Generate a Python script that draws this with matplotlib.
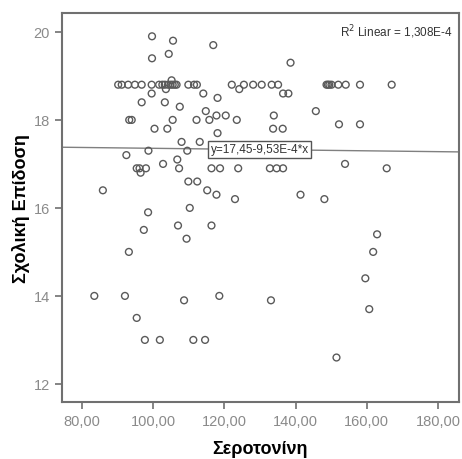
import numpy as np
import matplotlib.pyplot as plt
from matplotlib.ticker import FuncFormatter

plt.rcParams['font.family'] = ['Liberation Sans', 'DejaVu Sans']

# serotonin (x) and school performance (y), one entry per student
serotonin = [
    90.2, 91.2, 93.0, 94.9, 96.8, 99.6, 101.7, 102.6, 103.3, 104.2, 104.9, 105.5,
    106.1, 106.6, 109.9, 111.5, 112.3, 122.1, 125.5, 128.1, 130.5, 133.3, 135.1,
    148.7, 149.1, 149.5, 150.1, 152.0, 154.1, 158.1, 167.0,
    105.2, 103.6, 124.2, 136.5, 138.0, 99.6, 114.1,
    99.7, 105.6, 104.4, 99.7, 116.9, 138.6,
    96.8, 103.3, 118.1, 107.5, 114.8, 145.7, 117.8, 120.4, 133.9,
    93.3, 94.0, 105.5, 112.2, 115.8, 123.5,
    152.2, 158.1, 100.4, 104.0, 133.7, 136.4, 118.1,
    108.0, 113.1, 98.7, 109.6, 92.5, 106.8, 102.8, 153.9,
    95.4, 96.2, 98.0, 107.3, 116.4, 118.8, 123.9, 132.8, 134.7, 136.5, 165.6,
    96.5, 109.9, 112.4, 85.9, 115.2, 117.8, 141.4, 123.0, 148.1, 110.3, 98.6,
    107.0, 116.4, 97.4, 162.9, 109.4, 93.2, 161.8, 159.6,
    83.5, 92.1, 118.6, 108.7, 133.1, 160.7, 95.4,
    97.7, 101.9, 111.3, 114.6, 151.5,
]
performance = [
    18.8, 18.8, 18.8, 18.8, 18.8, 18.8, 18.8, 18.8, 18.8, 18.8, 18.8, 18.8,
    18.8, 18.8, 18.8, 18.8, 18.8, 18.8, 18.8, 18.8, 18.8, 18.8, 18.8,
    18.8, 18.8, 18.8, 18.8, 18.8, 18.8, 18.8, 18.8,
    18.9, 18.7, 18.7, 18.6, 18.6, 18.6, 18.6,
    19.9, 19.8, 19.5, 19.4, 19.7, 19.3,
    18.4, 18.4, 18.5, 18.3, 18.2, 18.2, 18.1, 18.1, 18.1,
    18.0, 18.0, 18.0, 18.0, 18.0, 18.0,
    17.9, 17.9, 17.8, 17.8, 17.8, 17.8, 17.7,
    17.5, 17.5, 17.3, 17.3, 17.2, 17.1, 17.0, 17.0,
    16.9, 16.9, 16.9, 16.9, 16.9, 16.9, 16.9, 16.9, 16.9, 16.9, 16.9,
    16.8, 16.6, 16.6, 16.4, 16.4, 16.3, 16.3, 16.2, 16.2, 16.0, 15.9,
    15.6, 15.6, 15.5, 15.4, 15.3, 15.0, 15.0, 14.4,
    14.0, 14.0, 14.0, 13.9, 13.9, 13.7, 13.5,
    13.0, 13.0, 13.0, 13.0, 12.6,
]

# linear fit reported by SPSS
intercept = 17.45
slope = -9.53e-4
r2_text = "R$^2$ Linear = 1,308E-4"
fit_text = "y=17,45-9,53E-4*x"

x_ticks = [80, 100, 120, 140, 160, 180]
y_ticks = [12, 14, 16, 18, 20]

fig = plt.figure(figsize=(4.62, 4.60), dpi=100)
ax = fig.add_axes([0.134, 0.124, 0.8595, 0.8456])

ax.scatter(serotonin, performance, s=24, facecolors='none',
           edgecolors='#5a5a5a', linewidths=1.0, zorder=3)

xmin, xmax = 74.4, 185.9
ax.set_xlim(xmin, xmax)
ax.set_ylim(11.59, 20.43)

xs = np.array([xmin, xmax])
ax.plot(xs, intercept + slope * xs, color='#808080', lw=1.0, zorder=2)

ax.text(129.9, 17.33, fit_text, fontsize=8.5, ha='center', va='center',
        color='#333333', zorder=4,
        bbox=dict(boxstyle='square,pad=0.22', fc='white', ec='#555555', lw=1.0))
ax.text(0.985, 0.975, r2_text, transform=ax.transAxes, fontsize=8.5,
        ha='right', va='top', color='#333333')

ax.set_xticks(x_ticks)
ax.set_yticks(y_ticks)
ax.xaxis.set_major_formatter(FuncFormatter(lambda v, p: f"{v:.2f}".replace('.', ',')))
ax.tick_params(axis='both', direction='out', length=5, width=1.2,
               color='#707070', labelcolor='#8a8a8a', labelsize=10.5)

for sp in ax.spines.values():
    sp.set_color('#707070')
    sp.set_linewidth(1.5)

ax.set_xlabel("Σεροτονίνη", fontsize=13, fontweight='bold', labelpad=9)
ax.set_ylabel("Σχολική Επίδοση", fontsize=13, fontweight='bold', labelpad=3)

fig.savefig("out.png", dpi=100)
